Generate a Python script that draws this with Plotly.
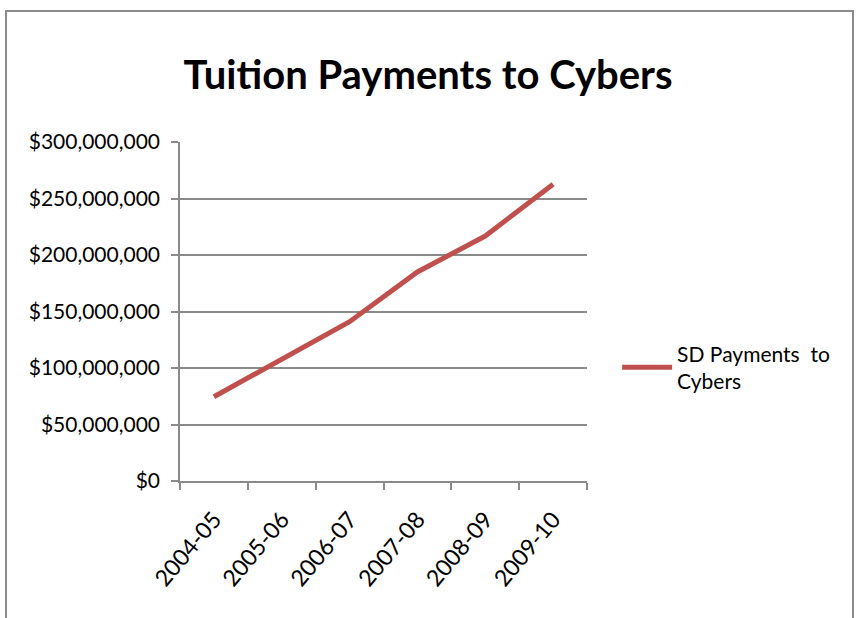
import plotly.graph_objects as go

years = ["2004-05", "2005-06", "2006-07", "2007-08", "2008-09", "2009-10"]
payments = [74600000, 108000000, 141000000, 185000000, 216800000, 262600000]
y_ticks = [0, 50000000, 100000000, 150000000, 200000000, 250000000, 300000000]
y_labels = ["$0", "$50,000,000", "$100,000,000", "$150,000,000", "$200,000,000", "$250,000,000", "$300,000,000"]

FONT = "Lato, 'Open Sans', sans-serif"
GRID = "#8a8a8a"

fig = go.Figure()
fig.add_trace(go.Scatter(
    x=years, y=payments, mode="lines",
    name="SD Payments  to<br>Cybers",
    line=dict(color="#C0504D", width=5),
))

fig.update_layout(
    width=856, height=618,
    margin=dict(l=180, r=269, t=142, b=137),
    paper_bgcolor="white", plot_bgcolor="white",
    title=dict(text="<b>Tuition Payments to Cybers</b>", x=0.5, xanchor="center",
               y=0.878, yanchor="middle",
               font=dict(family=FONT, size=40, color="black")),
    font=dict(family=FONT, color="black"),
    showlegend=True,
    legend=dict(x=1.074, y=0.335, xanchor="left", yanchor="middle",
                itemwidth=50,
                font=dict(family=FONT, size=21, color="black"),
                bgcolor="rgba(0,0,0,0)"),
    xaxis=dict(
        type="category", tickson="boundaries", range=[-0.5, 5.5],
        showline=True, linecolor=GRID, linewidth=1.5,
        ticks="outside", ticklen=7, tickcolor=GRID, tickwidth=1.5,
        showgrid=False, tickangle=-50, ticklabelstandoff=14,
        tickfont=dict(family=FONT, size=23, color="black"),
    ),
    yaxis=dict(
        range=[0, 300000000], tickvals=y_ticks, ticktext=y_labels,
        showline=True, linecolor=GRID, linewidth=1.5,
        ticks="outside", ticklen=7, tickcolor=GRID, tickwidth=1.5,
        showgrid=True, gridcolor=GRID, gridwidth=1.5, zeroline=False,
        ticklabelstandoff=7,
        tickfont=dict(family=FONT, size=21, color="black"),
    ),
    shapes=[dict(type="rect", xref="paper", yref="paper",
                 x0=-174/407, x1=(853-180)/407, y0=-0.6, y1=(481-11)/339,
                 line=dict(color="#8c8c8c", width=2), fillcolor="rgba(0,0,0,0)",
                 layer="below")],
)

fig.write_html("out.html")
